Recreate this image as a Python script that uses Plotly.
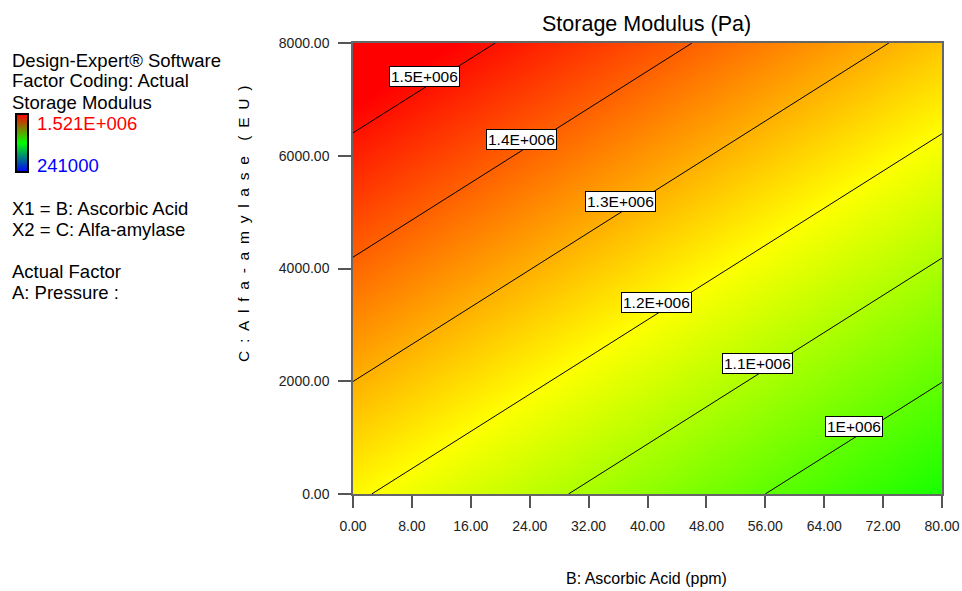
import plotly.graph_objects as go

# Response surface: Storage Modulus (Pa) at the corners of the factor region
ascorbic_acid = [0.0, 80.0]          # B: Ascorbic Acid (ppm)
alfa_amylase = [0.0, 8000.0]         # C: Alfa-amylase (EU)
storage_modulus = [                  # rows follow alfa_amylase, columns ascorbic_acid
    [1209500.0, 910200.0],
    [1572300.0, 1273000.0],
]

# Design-wide response range shown in the legend bar
response_min = 241000.0
response_max = 1521000.0

# Contour levels and where their labels sit along the B axis
contour_levels = [1.0e6, 1.1e6, 1.2e6, 1.3e6, 1.4e6, 1.5e6]
contour_texts = ["1E+006", "1.1E+006", "1.2E+006", "1.3E+006", "1.4E+006", "1.5E+006"]
label_b_positions = [68.0, 54.9, 41.2, 36.3, 22.9, 9.7]

x_ticks = [0, 8, 16, 24, 32, 40, 48, 56, 64, 72, 80]
y_ticks = [0, 2000, 4000, 6000, 8000]

W, H = 962, 591
L, R, T, B = 353, 20, 43, 97
PW, PH = W - L - R, H - T - B


def px(xp, yp):
    """Pixel position -> paper coordinates."""
    return (xp - L) / PW, (H - B - yp) / PH


def level_point(level, b):
    """Point on a contour level at a given B value (bilinear over the corner table)."""
    u = (b - ascorbic_acid[0]) / (ascorbic_acid[1] - ascorbic_acid[0])
    z00, z10 = storage_modulus[0]
    z01, z11 = storage_modulus[1]
    base = z00 * (1 - u) + z10 * u
    top = z01 * (1 - u) + z11 * u
    v = (level - base) / (top - base)
    return b, alfa_amylase[0] + v * (alfa_amylase[1] - alfa_amylase[0])


surface_scale = [
    [0.0, "#0000ff"],
    [0.25, "#00ffff"],
    [0.5, "#00ff00"],
    [0.75, "#ffff00"],
    [1.0, "#ff0000"],
]
legend_scale = [[0.0, "#0000ff"], [0.5, "#00ff00"], [1.0, "#ff0000"]]

fig = go.Figure()
fig.add_trace(go.Contour(
    x=ascorbic_acid,
    y=alfa_amylase,
    z=storage_modulus,
    zmin=response_min,
    zmax=response_max,
    zauto=False,
    colorscale=surface_scale,
    showscale=False,
    contours=dict(
        start=contour_levels[0],
        end=contour_levels[-1],
        size=contour_levels[1] - contour_levels[0],
        coloring="heatmap",
        showlabels=False,
    ),
    line=dict(color="black", width=1),
    hoverinfo="skip",
))

# Legend colour bar (Storage Modulus range)
cbx, cby = px(16, 143)
fig.add_trace(go.Scatter(
    x=[None], y=[None], mode="markers", showlegend=False, hoverinfo="skip",
    marker=dict(
        color=[response_min, response_max],
        cmin=response_min, cmax=response_max,
        colorscale=legend_scale, showscale=True,
        colorbar=dict(
            x=cbx, xanchor="left", y=cby, yanchor="middle",
            len=58, lenmode="pixels", thickness=12,
            outlinewidth=2, outlinecolor="black",
            showticklabels=False, ticks="", xpad=0, ypad=0,
        ),
    ),
))

annotations = []
font_main = "Liberation Sans, Arial, sans-serif"
font_narrow = "Liberation Sans Narrow, Arial Narrow, Liberation Sans, sans-serif"

# Contour labels in white boxes
for lvl, txt, b in zip(contour_levels, contour_texts, label_b_positions):
    xb, yc = level_point(lvl, b)
    annotations.append(dict(
        x=xb, y=yc, xref="x", yref="y", text=txt, showarrow=False,
        xanchor="center", yanchor="bottom", yshift=1,
        bgcolor="white", bordercolor="black", borderwidth=1, borderpad=1,
        font=dict(family=font_narrow, size=15.5, color="black"),
    ))

# Side panel text
side_lines = [
    ("Design-Expert\u00ae Software", 60, "black"),
    ("Factor Coding: Actual", 81, "black"),
    ("Storage Modulus", 102, "black"),
    ("X1 = B: Ascorbic Acid", 208, "black"),
    ("X2 = C: Alfa-amylase", 229, "black"),
    ("Actual Factor", 271, "black"),
    ("A: Pressure :", 292, "black"),
]
for txt, yp, col in side_lines:
    xa, ya = px(10, yp)
    annotations.append(dict(
        x=xa, y=ya, xref="paper", yref="paper", text=txt, showarrow=False,
        xanchor="left", yanchor="middle",
        font=dict(family=font_main, size=18.5, color=col),
    ))

for txt, yp, col in [("1.521E+006", 124, "#ff0000"), ("241000", 165, "#0000ff")]:
    xa, ya = px(35, yp)
    annotations.append(dict(
        x=xa, y=ya, xref="paper", yref="paper", text=txt, showarrow=False,
        xanchor="left", yanchor="middle",
        font=dict(family=font_main, size=18.5, color=col),
    ))

# Chart title and axis titles
tx, ty = px(646, 24)
annotations.append(dict(
    x=tx, y=ty, xref="paper", yref="paper", text="Storage Modulus (Pa)",
    showarrow=False, xanchor="center", yanchor="middle",
    font=dict(family=font_main, size=21.5, color="black"),
))
ax, ay = px(646, 578)
annotations.append(dict(
    x=ax, y=ay, xref="paper", yref="paper", text="B: Ascorbic Acid (ppm)",
    showarrow=False, xanchor="center", yanchor="middle",
    font=dict(family=font_main, size=16, color="black"),
))
spaced = "\u2002".join(list("C:Alfa-amylase")) + "\u2002\u2002" + "\u2002".join(list("(EU)"))
yx, yy = px(243, 224)
annotations.append(dict(
    x=yx, y=yy, xref="paper", yref="paper", text=spaced, textangle=-90,
    showarrow=False, xanchor="center", yanchor="middle",
    font=dict(family=font_main, size=15.5, color="black"),
))

axis_common = dict(
    showgrid=False, zeroline=False, showline=True, linecolor="#666666",
    linewidth=1.5, mirror=True, ticks="outside", tickcolor="#555555",
    tickwidth=1.5, tickfont=dict(family=font_main, size=14, color="#222222"),
)

fig.update_layout(
    width=W, height=H,
    margin=dict(l=L, r=R, t=T, b=B, pad=0, autoexpand=False),
    paper_bgcolor="white", plot_bgcolor="white",
    xaxis=dict(range=[0, 80], tickvals=x_ticks,
               ticktext=[f"{v:.2f}" for v in x_ticks], ticklen=12,
               ticklabelstandoff=6, **axis_common),
    yaxis=dict(range=[0, 8000], tickvals=y_ticks,
               ticktext=[f"{v:.2f}" for v in y_ticks], ticklen=13,
               ticklabelstandoff=6, **axis_common),
    annotations=annotations,
    showlegend=False,
)

fig.write_html("out.html")
